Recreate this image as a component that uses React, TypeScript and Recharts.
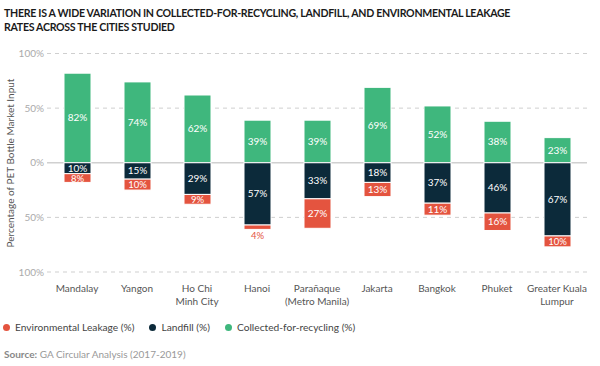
import React from "react";
import { BarChart, Bar, XAxis, YAxis, CartesianGrid, LabelList } from "recharts";

const categories = [
  "Mandalay",
  "Yangon",
  "Ho Chi\nMinh City",
  "Hanoi",
  "Parañaque\n(Metro Manila)",
  "Jakarta",
  "Bangkok",
  "Phuket",
  "Greater Kuala\nLumpur",
];
const recycled = [82, 74, 62, 39, 39, 69, 52, 38, 23];
const landfill = [10, 15, 29, 57, 33, 18, 37, 46, 67];
const leakage = [8, 10, 9, 4, 27, 13, 11, 16, 10];
const yTicks = [-100, -50, 0, 50, 100];

const GREEN = "#3fb77d";
const NAVY = "#0c2a3a";
const RED = "#e4543f";
const FONT = "Lato, 'Noto Sans', sans-serif";

const data = categories.map((name, i) => ({
  name,
  recycled: recycled[i],
  landfill: -landfill[i],
  leakage: -leakage[i],
}));

const makeLabel = (isLeak: boolean) => (props: any) => {
  const { x, y, width, height, value } = props;
  const top = Math.min(y, y + height);
  const h = Math.abs(height);
  const v = Math.abs(value);
  const cx = x + width / 2;
  if (isLeak && h < 8) {
    return (
      <text x={cx} y={top + h + 10} textAnchor="middle" fontSize={9.5} fill={RED} fontFamily={FONT}>
        {v}%
      </text>
    );
  }
  return (
    <text x={cx} y={top + h / 2 + 3.5} textAnchor="middle" fontSize={isLeak && h < 11 ? 9.5 : 10} fill="#fff" fontFamily={FONT}>
      {v}%
    </text>
  );
};

const XTick = (props: any) => {
  const { x, y, payload } = props;
  const lines = String(payload.value).split("\n");
  return (
    <g>
      {lines.map((l, i) => (
        <text key={i} x={x} y={y + 18 + i * 13} textAnchor="middle" fontSize={10} fill="#555" fontFamily={FONT}>
          {l}
        </text>
      ))}
    </g>
  );
};

const HLine = (props: any) => {
  const { x1, x2, y1, index } = props;
  if (index === 2) {
    return <line x1={x1} x2={x2} y1={y1} y2={y1} stroke="#d0d0d0" strokeWidth={1.5} />;
  }
  return <line x1={x1} x2={x2} y1={y1} y2={y1} stroke="#cfcfcf" strokeWidth={1} strokeDasharray="4 4" />;
};

const Dot = ({ color }: { color: string }) => (
  <span style={{ display: "inline-block", width: 7, height: 7, borderRadius: "50%", background: color, marginRight: 5 }} />
);

export default function App() {
  return (
    <div style={{ position: "absolute", left: 0, top: 0, width: 600, height: 366, background: "#fff", fontFamily: FONT, overflow: "hidden" }}>
      <div style={{ position: "absolute", left: 4, top: 6, fontSize: 10.6, fontWeight: 700, color: "#1a1a1a", lineHeight: "14px", whiteSpace: "nowrap", letterSpacing: -0.3 }}>
        THERE IS A WIDE VARIATION IN COLLECTED-FOR-RECYCLING, LANDFILL, AND ENVIRONMENTAL LEAKAGE
        <br />
        RATES ACROSS THE CITIES STUDIED
      </div>
      <div style={{ position: "absolute", left: 10, top: 163, width: 0, height: 0 }}>
        <div style={{ position: "absolute", transform: "translate(-50%, -50%) rotate(-90deg)", whiteSpace: "nowrap", fontSize: 10, color: "#555" }}>
          Percentage of PET Bottle Market Input
        </div>
      </div>
      <div style={{ position: "absolute", left: 0, top: 40 }}>
        <BarChart
          width={600}
          height={280}
          data={data}
          stackOffset="sign"
          margin={{ top: 13.5, right: 13, left: 17, bottom: 0 }}
          barSize={27}
        >
          <CartesianGrid vertical={false} horizontal={HLine as any} />
          <XAxis dataKey="name" axisLine={false} tickLine={false} tickSize={0} height={48} tick={<XTick />} interval={0} />
          <YAxis
            domain={[-100, 100]}
            ticks={yTicks}
            width={30}
            axisLine={false}
            tickLine={false}
            tickSize={0}
            tickMargin={3}
            tick={{ fontSize: 10, fill: "#aaa", fontFamily: FONT }}
            tickFormatter={(v: number) => `${Math.abs(v)}%`}
          />
          <Bar dataKey="recycled" stackId="a" fill={GREEN} stroke="#fff" strokeWidth={1} isAnimationActive={false}>
            <LabelList dataKey="recycled" content={makeLabel(false)} />
          </Bar>
          <Bar dataKey="landfill" stackId="a" fill={NAVY} stroke="#fff" strokeWidth={1} isAnimationActive={false}>
            <LabelList dataKey="landfill" content={makeLabel(false)} />
          </Bar>
          <Bar dataKey="leakage" stackId="a" fill={RED} stroke="#fff" strokeWidth={1} isAnimationActive={false}>
            <LabelList dataKey="leakage" content={makeLabel(true)} />
          </Bar>
        </BarChart>
      </div>
      <div style={{ position: "absolute", left: 3, top: 321, fontSize: 10.2, color: "#444", display: "flex", alignItems: "center", whiteSpace: "nowrap" }}>
        <Dot color={RED} />
        <span style={{ marginRight: 15 }}>Environmental Leakage (%)</span>
        <Dot color={NAVY} />
        <span style={{ marginRight: 15 }}>Landfill (%)</span>
        <Dot color={GREEN} />
        <span>Collected-for-recycling (%)</span>
      </div>
      <div style={{ position: "absolute", left: 4, top: 348, fontSize: 10, color: "#999", whiteSpace: "nowrap" }}>
        <b style={{ color: "#888" }}>Source:</b> GA Circular Analysis (2017-2019)
      </div>
    </div>
  );
}
